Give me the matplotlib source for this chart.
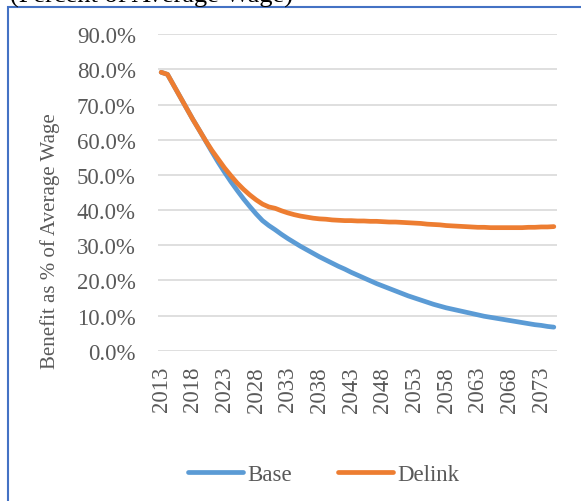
import matplotlib
matplotlib.use('Agg')
import matplotlib.pyplot as plt
from matplotlib.patches import Rectangle
from matplotlib.ticker import FuncFormatter

years = list(range(2013, 2076))

base = [79.2, 78.6, 75.4, 72.2, 69.0, 65.8, 62.8, 59.7, 56.6, 53.6,
        50.8, 48.1, 45.6, 43.2, 41.0, 38.9, 37.0, 35.6, 34.4, 33.1,
        31.9, 30.8, 29.7, 28.7, 27.7, 26.7, 25.8, 24.9, 24.0, 23.2,
        22.3, 21.5, 20.7, 19.9, 19.1, 18.4, 17.7, 17.0, 16.3, 15.6,
        15.0, 14.4, 13.8, 13.2, 12.7, 12.2, 11.8, 11.4, 11.0, 10.6,
        10.2, 9.8, 9.5, 9.2, 8.9, 8.6, 8.3, 8.0, 7.7, 7.4,
        7.2, 6.9, 6.7]

delink = [79.2, 78.6, 75.4, 72.2, 69.0, 65.8, 62.8, 59.8, 57.0, 54.5,
          52.0, 49.8, 47.7, 45.9, 44.3, 42.9, 41.7, 40.9, 40.5, 39.8,
          39.2, 38.7, 38.3, 38.0, 37.7, 37.5, 37.4, 37.2, 37.1, 37.0,
          37.0, 36.9, 36.9, 36.8, 36.8, 36.7, 36.6, 36.6, 36.5, 36.4,
          36.3, 36.2, 36.0, 35.9, 35.8, 35.6, 35.5, 35.4, 35.3, 35.2,
          35.1, 35.1, 35.0, 35.0, 35.0, 35.0, 35.0, 35.0, 35.1, 35.1,
          35.2, 35.2, 35.3]

tick_years = list(range(2013, 2076, 5))

plt.rcParams['font.family'] = ['Liberation Serif', 'DejaVu Serif']

fig = plt.figure(figsize=(5.81, 5.02), dpi=100)
ax = fig.add_axes([158 / 581, 150.3 / 502, 399 / 581, 316.4 / 502])

ax.plot(years, base, color='#5B9BD5', linewidth=3.4, solid_capstyle='round',
        solid_joinstyle='round', label='Base')
ax.plot(years, delink, color='#ED7D31', linewidth=3.4, solid_capstyle='round',
        solid_joinstyle='round', label='Delink')

ax.set_xlim(2012.5, 2075.5)
ax.set_ylim(0, 90)
ax.set_yticks(range(0, 91, 10))
ax.yaxis.set_major_formatter(FuncFormatter(lambda v, p: '{:.1f}%'.format(v)))
ax.set_xticks(tick_years)
ax.set_xticklabels([str(y) for y in tick_years], rotation=90)
ax.grid(True, axis='y', color='#d9d9d9', linewidth=1.2)
ax.set_axisbelow(True)
for s in ax.spines.values():
    s.set_visible(False)
ax.tick_params(axis='both', length=0, labelsize=16.5, labelcolor='#595959')
ax.tick_params(axis='y', pad=16)
ax.tick_params(axis='x', pad=11)

fig.text(50 / 581, 1 - 241 / 502, 'Benefit as % of Average Wage', rotation=90,
         ha='center', va='center', fontsize=15, color='#595959')

# title sits mostly above the visible area, as in the source screenshot
fig.text(10 / 581, 1 - 2.5 / 502, '(Percent of Average Wage)', ha='left',
         va='baseline', fontsize=19, color='black')

fig.patches.append(Rectangle((8 / 581, -0.1), 1.2, 1.1 - 8 / 502, transform=fig.transFigure,
                             fill=False, edgecolor='#4472C4', linewidth=1.5))

ax.legend(loc='center', bbox_to_anchor=(324 / 581, 1 - 475 / 502),
          bbox_transform=fig.transFigure, ncol=2, frameon=False,
          fontsize=16.5, handlelength=2.4, handletextpad=0.2,
          columnspacing=2.0, labelcolor='#595959')

fig.savefig('out.png', dpi=100)
